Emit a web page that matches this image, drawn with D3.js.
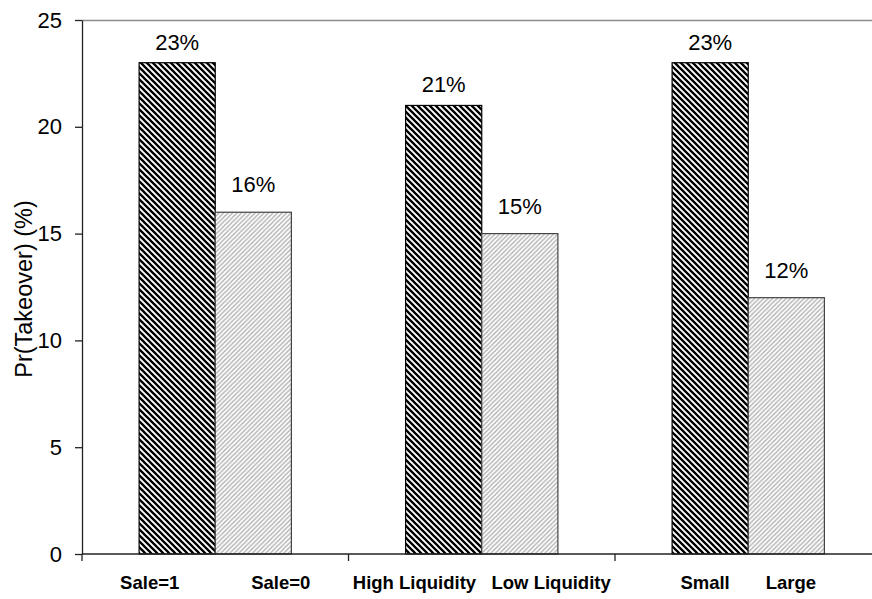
<!DOCTYPE html>
<html>
<head>
<meta charset="utf-8">
<script src="https://cdn.jsdelivr.net/npm/d3@7"></script>
<style>
  html, body { margin: 0; padding: 0; background: #fff; }
  svg { display: block; font-family: "Liberation Sans", Arial, sans-serif; }
  .grp-label { white-space: pre; }
</style>
</head>
<body>
<svg id="chart" width="872" height="599"></svg>
<script>
// Takeover probability by split
const groups = ["sale", "liquidity", "size"];
const groupLabels = [
  "Sale=1              Sale=0",
  "High Liquidity   Low Liquidity",
  "Small       Large"
];
const seriesKeys = ["first", "second"];
const firstValues = [23, 21, 23];   // Sale=1, High Liquidity, Small
const secondValues = [16, 15, 12];  // Sale=0, Low Liquidity, Large
const yTicks = [0, 5, 10, 15, 20, 25];

const W = 872, H = 599;
const plotLeft = 82, plotTop = 20, plotBottom = 554, plotRight = 881.5;

const svg = d3.select("#chart");
const defs = svg.append("defs");

// dark downward diagonal hatch
const dp = 6;
const pd = defs.append("pattern")
  .attr("id", "hatchDark").attr("patternUnits", "userSpaceOnUse")
  .attr("width", dp).attr("height", dp);
pd.append("rect").attr("width", dp).attr("height", dp).attr("fill", "#fff");
pd.append("path")
  .attr("d", `M-1,-1 L${dp + 1},${dp + 1} M-1,${dp - 1} L1,${dp + 1} M${dp - 1},-1 L${dp + 1},1`)
  .attr("stroke", "#000").attr("stroke-width", 2.3);

// light upward diagonal hatch
const lp = 4.5;
const pl = defs.append("pattern")
  .attr("id", "hatchLight").attr("patternUnits", "userSpaceOnUse")
  .attr("width", lp).attr("height", lp);
pl.append("rect").attr("width", lp).attr("height", lp).attr("fill", "#fff");
pl.append("path")
  .attr("d", `M-1,${lp + 1} L${lp + 1},-1 M-1,1 L1,-1 M${lp - 1},${lp + 1} L${lp + 1},${lp - 1}`)
  .attr("stroke", "#b0b0b0").attr("stroke-width", 1.4);

const x0 = d3.scaleBand().domain(groups).range([plotLeft, plotRight]).padding(0);
const x1 = d3.scaleBand().domain(seriesKeys).range([0, x0.bandwidth()])
  .paddingInner(0).paddingOuter(0.75);
const y = d3.scaleLinear().domain([0, 25]).range([plotBottom, plotTop]);

const seriesStyle = {
  first:  { fill: "url(#hatchDark)",  stroke: "#000", labelGap: 13, values: firstValues },
  second: { fill: "url(#hatchLight)", stroke: "#444", labelGap: 20, values: secondValues }
};

// top frame line
svg.append("line")
  .attr("x1", plotLeft).attr("x2", W).attr("y1", plotTop + 0.5).attr("y2", plotTop + 0.5)
  .attr("stroke", "#8c8c8c").attr("stroke-width", 1.6);

// bars and value labels
seriesKeys.forEach(k => {
  const s = seriesStyle[k];
  const rows = groups.map((g, i) => ({ g, v: s.values[i] }));
  svg.append("g").selectAll("rect")
    .data(rows)
    .join("rect")
    .attr("x", d => x0(d.g) + x1(k))
    .attr("y", d => y(d.v))
    .attr("width", x1.bandwidth())
    .attr("height", d => y(0) - y(d.v))
    .attr("fill", s.fill)
    .attr("stroke", s.stroke)
    .attr("stroke-width", 1.2);

  svg.append("g").selectAll("text")
    .data(rows)
    .join("text")
    .attr("x", d => x0(d.g) + x1(k) + x1.bandwidth() / 2)
    .attr("y", d => y(d.v) - s.labelGap)
    .attr("text-anchor", "middle")
    .attr("font-size", 22)
    .attr("fill", "#000")
    .text(d => d.v + "%");
});

// y axis
const yAxis = svg.append("g")
  .attr("transform", `translate(${plotLeft},0)`)
  .call(d3.axisLeft(y).tickValues(yTicks).tickSize(7).tickPadding(13).tickSizeOuter(0));
yAxis.select(".domain").attr("stroke", "#222").attr("stroke-width", 1.3);
yAxis.selectAll(".tick line").attr("stroke", "#222").attr("stroke-width", 1.3);
yAxis.selectAll(".tick text")
  .attr("font-size", 22).attr("fill", "#000")
  .attr("font-family", "'Liberation Sans', Arial, sans-serif");

// x axis line and group boundary ticks
svg.append("line")
  .attr("x1", plotLeft).attr("x2", W).attr("y1", plotBottom).attr("y2", plotBottom)
  .attr("stroke", "#222").attr("stroke-width", 1.3);
const bounds = groups.map(g => x0(g)).concat([x0(groups[groups.length - 1]) + x0.bandwidth()]);
svg.append("g").selectAll("line")
  .data(bounds)
  .join("line")
  .attr("x1", d => d).attr("x2", d => d)
  .attr("y1", plotBottom).attr("y2", plotBottom + 7)
  .attr("stroke", "#222").attr("stroke-width", 1.3);

// group labels
svg.append("g").selectAll("text")
  .data(groups.map((g, i) => ({ g, label: groupLabels[i] })))
  .join("text")
  .attr("class", "grp-label")
  .attr("xml:space", "preserve")
  .attr("x", d => x0(d.g) + x0.bandwidth() / 2)
  .attr("y", 589)
  .attr("text-anchor", "middle")
  .attr("font-size", 18.5)
  .attr("font-weight", "bold")
  .attr("fill", "#000")
  .text(d => d.label);

// y axis title
svg.append("text")
  .attr("transform", `translate(32,${(plotTop + plotBottom) / 2 + 2}) rotate(-90)`)
  .attr("text-anchor", "middle")
  .attr("font-size", 23.5)
  .attr("fill", "#000")
  .text("Pr(Takeover) (%)");
</script>
</body>
</html>
